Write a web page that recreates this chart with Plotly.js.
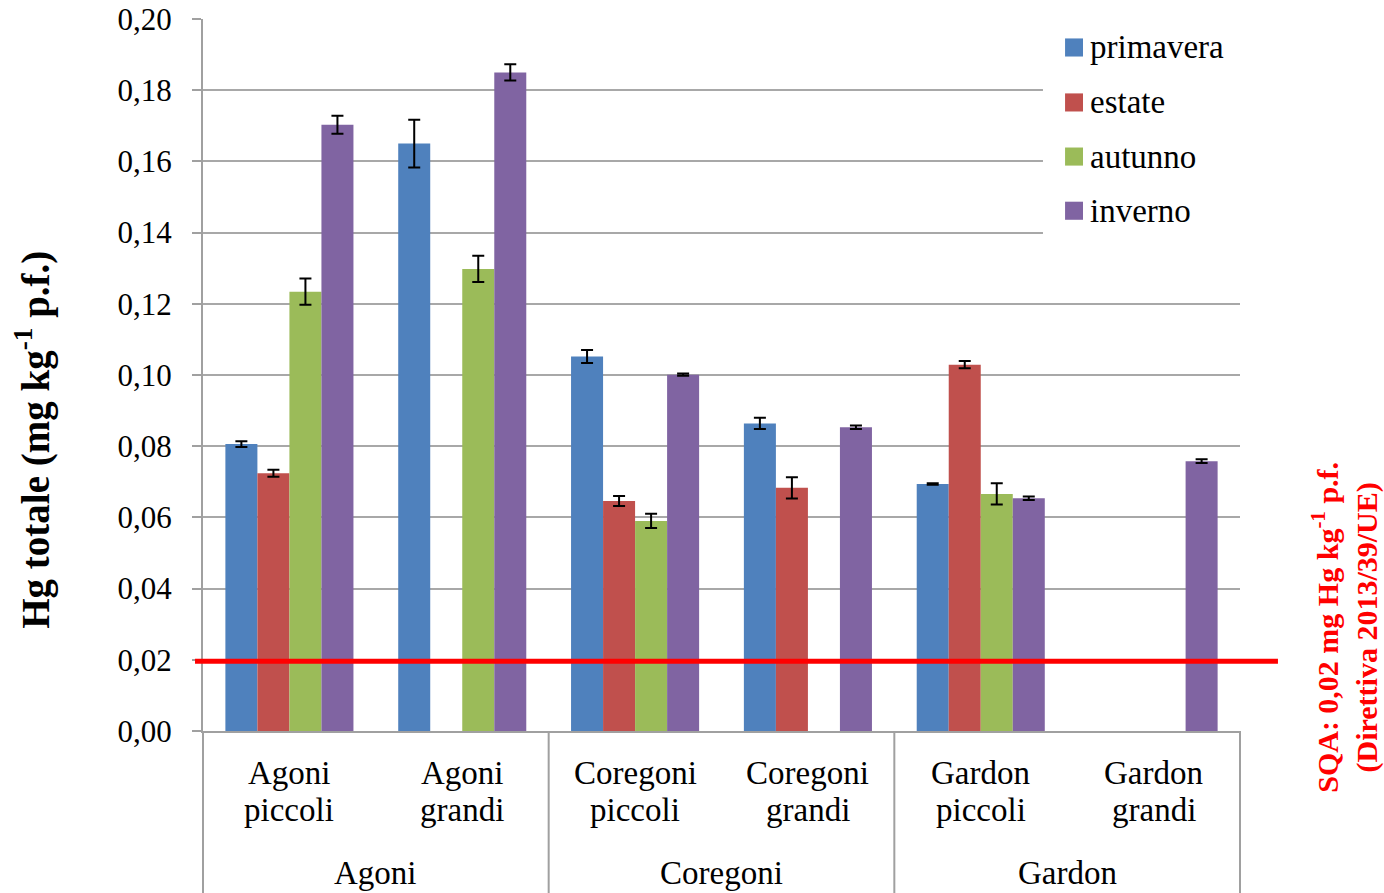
<!DOCTYPE html>
<html><head><meta charset="utf-8">
<script src="https://cdn.plot.ly/plotly-3.0.1.min.js"></script>
<style>body{margin:0;background:#fff}#chart{width:1384px;height:893px}</style>
</head><body><div id="chart"></div>
<script>
const categories = ["Agoni piccoli","Agoni grandi","Coregoni piccoli","Coregoni grandi","Gardon piccoli","Gardon grandi"];
const catLabels = ["Agoni<br>piccoli","Agoni<br>grandi","Coregoni<br>piccoli","Coregoni<br>grandi","Gardon<br>piccoli","Gardon<br>grandi"];
const groups = ["Agoni","Coregoni","Gardon"];
const seriesNames = ["primavera","estate","autunno","inverno"];
const primavera = [0.0806, 0.165, 0.1052, 0.0864, 0.0694, null];
const estate    = [0.0724, null, 0.0646, 0.0683, 0.1029, null];
const autunno   = [0.1234, 0.1298, 0.0590, null, 0.0666, null];
const inverno   = [0.1703, 0.1850, 0.1001, 0.0853, 0.0654, 0.0758];
const errPrimavera = [0.0008, 0.0067, 0.0018, 0.0016, 0.0002, null];
const errEstate    = [0.0010, null, 0.0014, 0.0030, 0.0010, null];
const errAutunno   = [0.0037, 0.0037, 0.0020, null, 0.0030, null];
const errInverno   = [0.0025, 0.0023, 0.0003, 0.0005, 0.0005, 0.0005];
const sqa = 0.0196;
const yTicks = [0,0.02,0.04,0.06,0.08,0.10,0.12,0.14,0.16,0.18,0.20];
const yTitle = "<b>Hg totale (mg kg<sup>-1</sup> p.f.)</b>";
const sqaLabel = "<b>SQA: 0,02 mg Hg kg<sup>-1</sup> p.f.<br>(Direttiva 2013/39/UE)</b>";

const colors = ["#4F81BD","#C0504D","#9BBB59","#8064A2"];
const vals = [primavera, estate, autunno, inverno];
const errs = [errPrimavera, errEstate, errAutunno, errInverno];
const serif = "Liberation Serif, Times New Roman, serif";
const grey = '#a0a0a0';

const data = seriesNames.map((n,i)=>({
  type:'bar', name:n, x:categories, y:vals[i],
  marker:{color:colors[i], line:{width:0}},
  error_y:{type:'data', array:errs[i], visible:true, color:'#000', thickness:2, width:6}
}));

const annotations = [];
categories.forEach((c,i)=>{
  const parts = catLabels[i].split('<br>');
  const ys = [-0.0590, -0.1112];
  parts.forEach((p,k)=>annotations.push({
    x:c, xref:'x', y:ys[k], yref:'paper', text:p, showarrow:false,
    font:{family:serif, size:33, color:'#000'}, yanchor:'middle'}));
});
groups.forEach((g,i)=>{
  annotations.push({x:(2*i+1)/6, xref:'paper', y:-0.1997, yref:'paper', text:g, showarrow:false,
    font:{family:serif, size:33, color:'#000'}, yanchor:'middle', xanchor:'center'});
});
annotations.push({x:1.1013, xref:'paper', y:0.145, yref:'paper', textangle:-90,
  text:sqaLabel, showarrow:false,
  font:{family:serif, size:30, color:'#FF0000'}, xanchor:'center', yanchor:'middle'});
annotations.push({x:-0.164, xref:'paper', y:0.409, yref:'paper', textangle:-90,
  text:yTitle, showarrow:false,
  font:{family:serif, size:39, color:'#000'}, xanchor:'center', yanchor:'middle'});

const shapes = [];
[0,1/3,2/3,1].forEach(p=>{
  shapes.push({type:'line', xref:'paper', yref:'paper', x0:p, x1:p, y0:0, y1:-0.232, line:{color:grey, width:2}});
});
// legend box
shapes.push({type:'rect', xref:'paper', yref:'paper', x0:0.81, x1:1.003, y0:0.69, y1:0.994, fillcolor:'#fff', line:{width:0}, layer:'above'});
const legY = [0.9600, 0.8828, 0.8068, 0.7307];
seriesNames.forEach((n,i)=>{
  shapes.push({type:'rect', xref:'paper', yref:'paper', x0:0.8313, x1:0.8486, y0:legY[i]-0.0127, y1:legY[i]+0.0127,
    fillcolor:colors[i], line:{width:0}, layer:'above'});
  annotations.push({x:0.8535, xref:'paper', y:legY[i], yref:'paper', text:n, showarrow:false,
    xanchor:'left', yanchor:'middle', font:{family:serif, size:33, color:'#000'}});
});
shapes.push({type:'line', xref:'paper', yref:'y', x0:-0.0077, x1:1.0366, y0:sqa, y1:sqa, line:{color:'#FF0000', width:5}, layer:'above'});

const layout = {
  width:1384, height:893,
  margin:{l:203, r:144, t:19, b:162},
  paper_bgcolor:'#fff', plot_bgcolor:'#fff',
  separators:',.',
  barmode:'group', bargap:0.259, bargroupgap:0,
  showlegend:false,
  xaxis:{type:'category', showticklabels:false, showgrid:false, zeroline:false,
    showline:true, linecolor:grey, linewidth:2, ticks:'', fixedrange:true},
  yaxis:{range:[0,0.2], tickvals:yTicks, tickformat:'.2f', showgrid:true, gridcolor:'#a8a8a8', gridwidth:2,
    zeroline:false, showline:true, linecolor:grey, linewidth:2, ticks:'outside', ticklen:9, tickcolor:grey, tickwidth:2,
    ticklabelstandoff:14, ticklabeloverflow:'allow',
    tickfont:{family:serif, size:31, color:'#000'}},
  annotations, shapes
};
Plotly.newPlot('chart', data, layout, {displayModeBar:false, staticPlot:true});
</script></body></html>
